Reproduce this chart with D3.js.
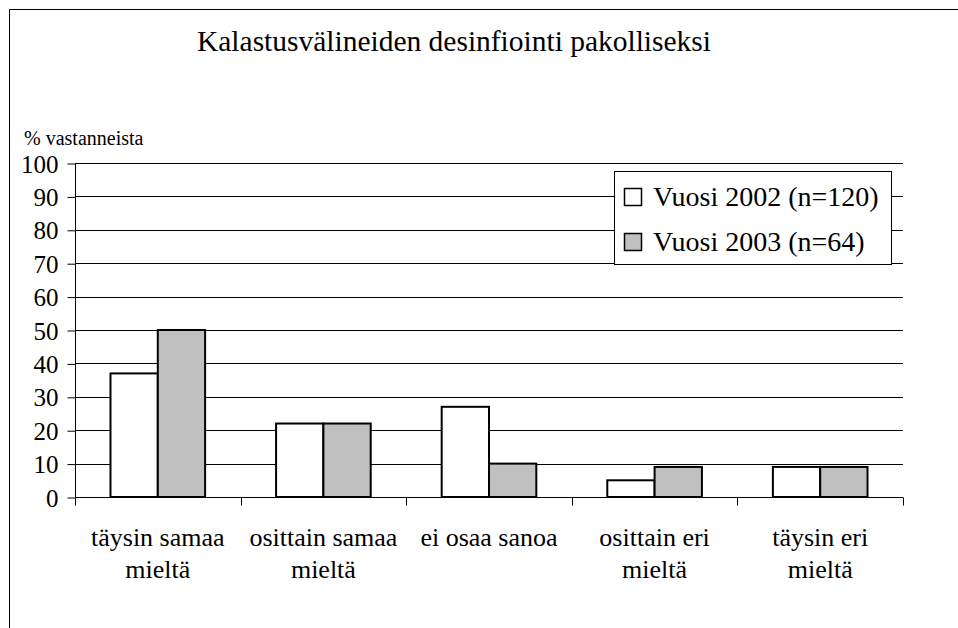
<!DOCTYPE html>
<html><head>
<script src="https://cdn.jsdelivr.net/npm/d3@7"></script>
</head><body style="margin:0">
<svg id="c" width="958" height="628" font-family="Liberation Serif"></svg>
<script>
const title = "Kalastusvälineiden desinfiointi pakolliseksi";
const yLabel = "% vastanneista";
const categories = [["täysin samaa","mieltä"],["osittain samaa","mieltä"],["ei osaa sanoa"],["osittain eri","mieltä"],["täysin eri","mieltä"]];
const seriesNames = ["Vuosi 2002 (n=120)","Vuosi 2003 (n=64)"];
const values2002 = [37,22,27,5,9];
const values2003 = [50,22,10,9,9];
const yTicks = [0,10,20,30,40,50,60,70,80,90,100];
const colors = ["#ffffff","#c0c0c0"];

(function(){
const FF = "Liberation Serif";
const svg = d3.select("#c");
svg.append("path").attr("d","M9.5,628 V9.5 H958").attr("fill","none").attr("stroke","#000").attr("stroke-width",1);

const pl=75, pr=903, pt=163, pb=497;
const x = d3.scaleBand().domain(d3.range(categories.length)).range([pl,pr]).paddingInner(0).paddingOuter(0);
const y = d3.scaleLinear().domain([0,100]).range([pb,pt]);
const cw = x.bandwidth();
const bw = cw/3.5;
const xs = d3.scaleBand().domain([0,1]).range([0,2*bw]);

svg.append("text").attr("x",197).attr("y",51).attr("font-size",29).attr("font-family",FF)
  .attr("textLength",514).attr("lengthAdjust","spacingAndGlyphs").text(title);
svg.append("text").attr("x",24).attr("y",145).attr("font-size",20).attr("font-family",FF).text(yLabel);

svg.append("g").selectAll("line").data(yTicks).join("line")
  .attr("x1",pl).attr("x2",pr).attr("y1",d=>Math.round(y(d))+0.5).attr("y2",d=>Math.round(y(d))+0.5)
  .attr("stroke","#000").attr("stroke-width",1);

const ya = svg.append("g").attr("transform",`translate(${pl+0.5},0.5)`)
  .call(d3.axisLeft(y).tickValues(yTicks).tickSize(8).tickPadding(9).tickFormat(d3.format("d")));
ya.attr("font-family",FF).attr("font-size",25);
ya.selectAll("text").attr("dy","0.34em").attr("fill","#000").attr("font-family",FF);
ya.selectAll("line,path").attr("stroke","#000");
ya.select(".domain").attr("d",`M0,${pt-0.5}V${pb-0.5}`);

const series=[values2002,values2003];
series.forEach((vals,si)=>{
  svg.append("g").selectAll("rect").data(vals).join("rect")
    .attr("x",(d,i)=>x(i)+(cw-2*bw)/2+xs(si))
    .attr("y",d=>y(d)).attr("width",bw).attr("height",d=>pb-y(d))
    .attr("fill",colors[si]).attr("stroke","#000").attr("stroke-width",2);
});

const xa = svg.append("g").attr("transform",`translate(0,${pb+0.5})`);
xa.append("line").attr("x1",pl).attr("x2",pr).attr("stroke","#000");
const bounds = d3.range(categories.length+1).map(i=> i<categories.length? x(i): pr);
xa.selectAll("line.t").data(bounds).join("line").attr("class","t")
  .attr("x1",d=>Math.round(d)+0.5).attr("x2",d=>Math.round(d)+0.5).attr("y1",0).attr("y2",8).attr("stroke","#000");
categories.forEach((lines,i)=>{
  const t = svg.append("text").attr("text-anchor","middle").attr("font-size",26).attr("font-family",FF);
  lines.forEach((l,j)=>t.append("tspan").attr("x",x(i)+cw/2).attr("y",546+j*32).text(l));
});

const lg = svg.append("g");
lg.append("rect").attr("x",614.5).attr("y",171.5).attr("width",277).attr("height",93).attr("fill","#fff").attr("stroke","#000");
seriesNames.forEach((n,i)=>{
  const cy = 197 + i*45;
  lg.append("rect").attr("x",624.5).attr("y",cy-8.5).attr("width",17).attr("height",17).attr("fill",colors[i]).attr("stroke","#000").attr("stroke-width",1.5);
  lg.append("text").attr("x",653).attr("y",cy+9).attr("font-size",28).attr("font-family",FF).text(n);
});
})();
</script>
</body></html>
